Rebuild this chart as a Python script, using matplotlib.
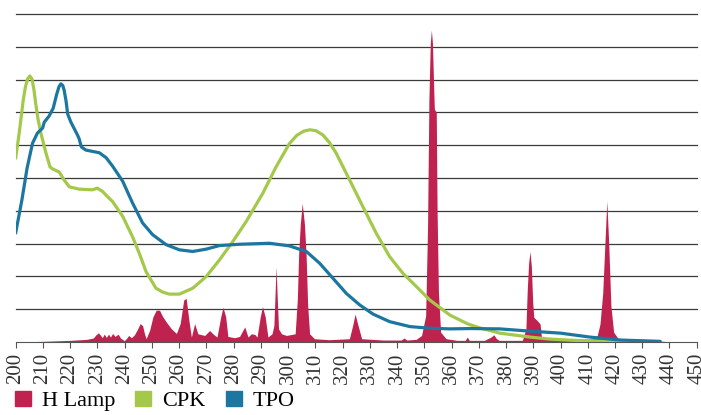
import matplotlib
matplotlib.use("Agg")
import matplotlib.pyplot as plt
from matplotlib.patches import Patch

plt.rcParams["font.family"] = ["Liberation Serif", "DejaVu Serif"]

# --- data ---
lamp_x = [200, 210, 220, 226, 228.5, 229.5, 230.4, 231.2, 231.8, 232.5, 233.3, 234.1, 234.8,
          235.6, 236.5, 237.6, 238.5, 239.9, 240.8, 241.5, 242.5, 243.6, 244.8, 245.7, 246.6,
          247.3, 247.9, 249.2, 250.4, 251.6, 252.8, 254, 255.3, 257.1, 259, 260.4, 261.7,
          262.6, 263.6, 264.5, 265.7, 266.9, 269.4, 271.2, 272.4, 273.9, 275.3, 276.1, 277.1,
          277.9, 280.4, 282.2, 284.1, 285.3, 286.5, 287.8, 288.6, 289.8, 290.6, 291.6, 292.6,
          294.1, 294.8, 295.2, 295.6, 296.0, 296.5, 297.6, 299.4, 302.6, 303.4, 303.9, 304.5,
          305.2, 306.0, 306.6, 307.2, 307.9, 309.7, 315, 322.5, 323.7, 324.6, 325.7, 327, 335,
          341.5, 342.6, 343.6, 347, 349, 350.5, 351.2, 351.7, 352.2, 352.6, 353.0, 353.5,
          353.7, 354.4, 354.7, 355.2, 356, 358, 362, 365, 365.8, 366.5, 372, 374.5, 375.5,
          376.5, 377.5, 386, 387.3, 387.8, 388.3, 388.8, 389.3, 389.8, 390.2, 391.5, 392.5,
          393, 395, 405, 412, 413.5, 414.5, 415.5, 416.3, 417, 417.7, 418.5, 419.5, 421, 425,
          430, 438, 440]
lamp_y = [0, 0.02, 0.05, 0.08, 0.12, 0.22, 0.28, 0.2, 0.13, 0.24, 0.14, 0.24, 0.15,
          0.26, 0.17, 0.24, 0.12, 0.04, 0.12, 0.2, 0.13, 0.22, 0.4, 0.56, 0.5,
          0.25, 0.1, 0.36, 0.77, 0.97, 0.97, 0.77, 0.61, 0.41, 0.26, 0.56, 1.28,
          1.33, 0.66, 0.15, 0.56, 0.25, 0.2, 0.35, 0.25, 0.15, 0.77, 1.06, 0.77,
          0.17, 0.13, 0.17, 0.46, 0.15, 0.25, 0.23, 0.15, 0.77, 1.08, 0.77, 0.15,
          0.25, 0.5, 1.4, 2.3, 1.4, 0.4, 0.25, 0.2, 0.25, 1.3, 2.7, 3.6,
          4.23, 3.6, 2.7, 1.1, 0.25, 0.1, 0.07, 0.1, 0.5, 0.85, 0.5, 0.1, 0.06,
          0.06, 0.12, 0.06, 0.08, 0.2, 0.8, 3.5, 7.4, 9.1, 9.51, 9.1, 7.6,
          7.1, 7.0, 4.0, 1.5, 0.3, 0.1, 0.05, 0.05, 0.15, 0.05, 0.05, 0.15, 0.22,
          0.1, 0.05, 0.05, 0.4, 1.6, 2.4, 2.76, 2.3, 1.2, 0.75, 0.65, 0.55,
          0.15, 0.08, 0.05, 0.1, 0.2, 0.55, 1.5, 3.0, 4.3, 3.0, 1.1, 0.3, 0.12, 0.08,
          0.05, 0.02, 0]

cpk_x = [200, 201.3, 202.8, 203.6, 204.4, 205.2, 206.0, 206.7, 207.4, 208.2, 209.3, 211, 212.6,
         213.5, 216, 217.8, 219.7, 223.3, 228.2, 230, 231.9, 233.5, 235.6, 239.3, 242.9,
         245.4, 247.9, 251.5, 254, 256.4, 260.1, 265, 269.9, 274.8, 279.7, 284.6, 290.7,
         295.6, 300.5, 303.2, 305.8, 308.0, 310.3, 312.8, 315.2, 317.7, 322.6, 327.5, 332.4,
         337.3, 342.2, 347.1, 352, 359.4, 366, 370.4, 377.7, 388.8, 395.8, 405, 414, 425]
cpk_y = [5.6, 6.36, 7.38, 7.78, 8.02, 8.11, 8.02, 7.7, 7.25, 6.8, 6.36, 5.8, 5.34,
         5.28, 5.18, 4.94, 4.73, 4.66, 4.64, 4.69, 4.59, 4.45, 4.28, 3.83, 3.21,
         2.7, 2.14, 1.64, 1.52, 1.46, 1.46, 1.64, 1.99, 2.5, 3.06, 3.67, 4.53,
         5.34, 6.05, 6.3, 6.43, 6.47, 6.44, 6.31, 6.08, 5.75, 4.94, 4.12, 3.31,
         2.6, 2.09, 1.69, 1.28, 0.82, 0.55, 0.43, 0.27, 0.15, 0.09, 0.05, 0.03, 0.02]

tpo_x = [200, 202.3, 204.2, 206.2, 208, 209.9, 210.5, 212.3, 213.8, 215, 215.9, 216.6, 217.3,
         217.8, 218.5, 219.1, 220.3, 222.7, 223.3, 224.1, 225.8, 230.7, 233.2, 235.6, 239.3,
         242.9, 246.6, 250.3, 255.2, 260.1, 265, 269.9, 274.8, 282.2, 289.5, 293.2, 300.5,
         306.7, 311.6, 316.5, 321.4, 326.3, 331.2, 337.3, 344.7, 352, 359.4, 366.7, 377.7,
         389, 400, 410.8, 421.8, 436.6]
tpo_y = [3.32, 4.33, 5.3, 6.06, 6.37, 6.52, 6.7, 6.89, 7.13, 7.53, 7.78, 7.87, 7.82,
         7.68, 7.35, 6.95, 6.7, 6.31, 6.2, 5.95, 5.85, 5.77, 5.62, 5.36, 4.9,
         4.24, 3.63, 3.27, 2.97, 2.81, 2.76, 2.83, 2.94, 2.98, 3.0, 3.01, 2.93,
         2.76, 2.4, 1.94, 1.48, 1.13, 0.85, 0.62, 0.47, 0.42, 0.4, 0.41, 0.4,
         0.33, 0.27, 0.15, 0.06, 0.02]

x_ticks = list(range(200, 451, 10))
series_names = ["H Lamp", "CPK", "TPO"]
colors = {"H Lamp": "#c0224f", "CPK": "#a4c94a", "TPO": "#1c77a0"}

fig = plt.figure(figsize=(7.01, 4.15), dpi=100)
ax = fig.add_axes([0.0223, 0.1759, 0.9716, 0.7904])

ax.fill_between(lamp_x, lamp_y, 0, color=colors["H Lamp"], linewidth=0, zorder=2)
ax.plot(cpk_x, cpk_y, color=colors["CPK"], lw=2.3, solid_joinstyle="round",
        solid_capstyle="round", zorder=3)
ax.plot(tpo_x, tpo_y, color=colors["TPO"], lw=2.3, solid_joinstyle="round",
        solid_capstyle="round", zorder=4)

ax.set_xlim(200, 450)
ax.set_ylim(0, 10)
ax.set_xticks(x_ticks)
ax.set_xticklabels([str(t) for t in x_ticks], rotation=90, fontsize=15, color="#333333")
ax.set_yticks(range(1, 11))
ax.set_yticklabels([])
ax.tick_params(axis="y", length=0)
ax.tick_params(axis="x", direction="out", length=4.5, width=0.8, color="#555555", pad=3)
ax.yaxis.grid(True, color="#3a3a3a", lw=0.9, clip_on=False)
ax.set_axisbelow(True)
for side in ["top", "left", "right"]:
    ax.spines[side].set_visible(False)
ax.spines["bottom"].set_color("#555555")
ax.spines["bottom"].set_linewidth(0.8)

handles = [Patch(color=colors[n]) for n in series_names]
fig.legend(handles, series_names, loc="center left", bbox_to_anchor=(0.021, 0.034),
           ncol=3, frameon=False, fontsize=16, handlelength=0.72, handleheight=0.72,
           handletextpad=0.5, columnspacing=0.9, borderpad=0, borderaxespad=0)

fig.savefig("out.png", dpi=100)
